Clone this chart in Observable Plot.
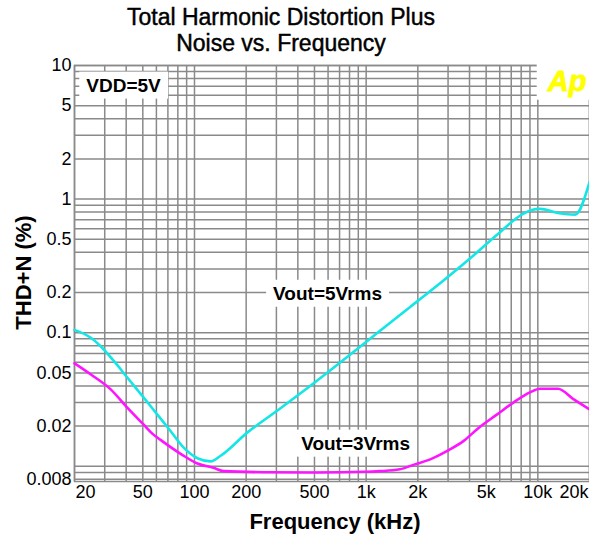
<!DOCTYPE html>
<html>
<head>
<meta charset="utf-8">
<script src="https://cdn.jsdelivr.net/npm/d3@7"></script>
<script src="https://cdn.jsdelivr.net/npm/@observablehq/plot@0.6"></script>
<style>
  html, body { margin: 0; padding: 0; background: #fff; }
  #wrap { width: 589px; height: 536px; overflow: hidden; background: #fff; }
  #title { width: 562px; height: 52px; padding-top: 4px; text-align: center;
    font-family: "Liberation Sans", Arial, sans-serif; font-size: 23px; line-height: 26px; color: #000;
    -webkit-text-stroke: 0.45px #000; }
</style>
</head>
<body>
<div id="wrap">
  <div id="title">Total Harmonic Distortion Plus<br>Noise vs. Frequency</div>
  <div id="chart"></div>
</div>
<script>
// Vout = 5 Vrms (cyan)
const freq5 = [20, 24.8, 28.3, 33.9, 40.6, 50.6, 60.6, 72.5, 86.6, 104, 124, 142, 202, 317, 497, 778, 1210, 1805, 2366, 4200, 5700, 8200, 9200, 10300, 13100, 16500, 20000];
const thd5  = [0.105, 0.092, 0.0796, 0.0615, 0.0462, 0.0327, 0.0245, 0.0184, 0.0138, 0.0115, 0.0109, 0.012, 0.0178, 0.0272, 0.042, 0.066, 0.104, 0.156, 0.205, 0.377, 0.532, 0.775, 0.83, 0.845, 0.788, 0.766, 1.34];
// Vout = 3 Vrms (magenta)
const freq3 = [20, 24.8, 32.5, 40.6, 50.6, 57, 63.7, 83.9, 104, 129, 148, 254, 500, 1000, 1200, 1570, 1900, 2360, 2950, 3700, 4500, 5800, 7200, 9000, 10300, 13100, 16200, 20000];
const thd3  = [0.059, 0.0489, 0.0377, 0.0275, 0.0205, 0.0175, 0.0157, 0.0123, 0.0105, 0.00975, 0.0092, 0.00904, 0.009, 0.0091, 0.0092, 0.0095, 0.0103, 0.01127, 0.013, 0.0155, 0.0193, 0.0245, 0.030, 0.0358, 0.0381, 0.0381, 0.0317, 0.0267];

const xTickValues = [20, 50, 100, 200, 500, 1000, 2000, 5000, 10000, 20000];
const xTickLabels = ["20", "50", "100", "200", "500", "1k", "2k", "5k", "10k", "20k"];
const yTickValues = [0.008, 0.02, 0.05, 0.1, 0.2, 0.5, 1, 2, 5, 10];
const yTickLabels = ["0.008", "0.02", "0.05", "0.1", "0.2", "0.5", "1", "2", "5", "10"];

const seriesNames = ["Vout=5Vrms", "Vout=3Vrms"];
const seriesColors = ["#14e6e6", "#ff14ff"];
// annotation anchors (data coordinates)
const labelText = ["Vout=5Vrms", "Vout=3Vrms", "VDD=5V"];
const labelFreq = [596, 868, 38.6];
const labelTHD  = [0.196, 0.0148, 7.08];
const logoText = "Ap";
const logoFreq = 14800;
const logoTHD = 7.6;

const xDomain = [20, 20000];
const yDomain = [0.0077, 10];

// grid values: 1..9 per decade
const xGrid = [];
for (const d of [10, 100, 1000, 10000]) for (let k = 1; k <= 9; k++) { const v = k * d; if (v >= 20 && v <= 20000) xGrid.push(v); }
const yGrid = [];
for (const d of [0.001, 0.01, 0.1, 1, 10]) for (let k = 1; k <= 9; k++) { const v = +(k * d).toPrecision(3); if (v >= 0.008 && v <= 10) yGrid.push(v); }

const rows = [];
freq5.forEach((f, i) => rows.push({series: seriesNames[0], f, v: thd5[i]}));
freq3.forEach((f, i) => rows.push({series: seriesNames[1], f, v: thd3[i]}));
const labels = labelText.map((t, i) => ({t, f: labelFreq[i], v: labelTHD[i]}));
const nT = xTickValues.length;

const gridColor = "#8a8a8a";
const chart = Plot.plot({
  width: 589,
  height: 480,
  marginLeft: 74,
  marginRight: 0,
  marginTop: 9,
  marginBottom: 55,
  x: {type: "log", domain: xDomain, axis: null},
  y: {type: "log", domain: yDomain, axis: null},
  color: {domain: seriesNames, range: seriesColors},
  style: {fontFamily: "'Liberation Sans', Arial, sans-serif", background: "white", overflow: "visible"},
  marks: [
    Plot.ruleX(xGrid, {x: d => d, stroke: gridColor, strokeWidth: 1.5}),
    Plot.ruleY(yGrid, {y: d => d, stroke: gridColor, strokeWidth: 1.5}),
    Plot.frame({stroke: gridColor, strokeWidth: 1.5}),
    Plot.line(rows, {x: "f", y: "v", z: "series", stroke: "series", strokeWidth: 2.6, curve: "monotone-x"}),
    Plot.text(labels, {x: "f", y: "v", text: "t", fontSize: 19, fontWeight: "bold", fill: "#000"}),
    Plot.text([logoText], {x: () => logoFreq, y: () => logoTHD, text: d => d, fontSize: 29, fontWeight: "bold", fontStyle: "italic", fill: "#ffff00", stroke: "#ffff00", strokeWidth: 0.8}),
    // y tick labels
    Plot.text(yTickValues, {y: d => d, text: (d, i) => yTickLabels[i], frameAnchor: "left", textAnchor: "end", dx: -3, fontSize: 18, fill: "#000"}),
    // x tick labels
    Plot.text(xTickValues.slice(0, 1), {x: d => d, text: (d, i) => xTickLabels[i], frameAnchor: "bottom", lineAnchor: "top", textAnchor: "start", dy: 4, dx: 1, fontSize: 18, fill: "#000"}),
    Plot.text(xTickValues.slice(1, nT - 1), {x: d => d, text: (d, i) => xTickLabels[i + 1], frameAnchor: "bottom", lineAnchor: "top", dy: 4, fontSize: 18, fill: "#000"}),
    Plot.text(xTickValues.slice(nT - 1), {x: d => d, text: () => xTickLabels[nT - 1], frameAnchor: "bottom", lineAnchor: "top", textAnchor: "end", dy: 4, dx: -1, fontSize: 18, fill: "#000"}),
    // axis titles
    Plot.text(["Frequency (kHz)"], {text: d => d, frameAnchor: "bottom", lineAnchor: "bottom", dy: 47, dx: 3, fontSize: 22, fontWeight: "bold", fill: "#000"}),
    Plot.text(["THD+N (%)"], {text: d => d, frameAnchor: "left", textAnchor: "middle", rotate: -90, dx: -51, dy: -1, fontSize: 22, fontWeight: "bold", fill: "#000"})
  ]
});
document.getElementById("chart").appendChild(chart);

// white boxes behind annotation labels
const boxed = new Set([...labelText, logoText]);
d3.select(chart).selectAll("text").each(function() {
  const t = this.textContent;
  if (!boxed.has(t)) return;
  const b = this.getBBox();
  const padX = t === logoText ? 10 : 7;
  const padY = 3;
  const rect = document.createElementNS("http://www.w3.org/2000/svg", "rect");
  rect.setAttribute("x", b.x - padX);
  rect.setAttribute("y", b.y - padY);
  rect.setAttribute("width", b.width + 2 * padX);
  rect.setAttribute("height", b.height + 2 * padY);
  rect.setAttribute("fill", "white");
  rect.setAttribute("stroke", "none");
  const tr = this.getAttribute("transform");
  if (tr) rect.setAttribute("transform", tr);
  this.parentNode.insertBefore(rect, this);
});
</script>
</body>
</html>
